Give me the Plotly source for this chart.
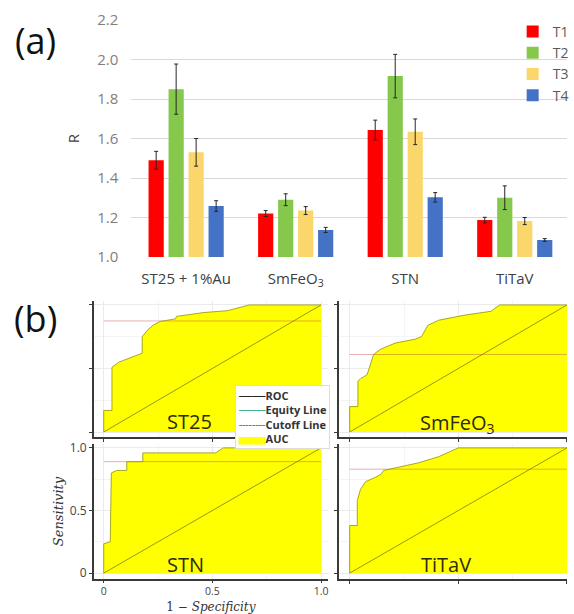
import plotly.graph_objects as go

# ---------------- (a) bar chart data ----------------
categories = ["ST25 + 1%Au", "SmFeO3", "STN", "TiTaV"]
category_labels = ["ST25 + 1%Au", "SmFeO<sub>3</sub>", "STN", "TiTaV"]
series_names = ["T1", "T2", "T3", "T4"]
t1_values = [1.49, 1.22, 1.643, 1.187]
t1_errors = [0.045, 0.015, 0.05, 0.014]
t2_values = [1.85, 1.29, 1.916, 1.30]
t2_errors = [0.127, 0.03, 0.11, 0.06]
t3_values = [1.53, 1.235, 1.634, 1.182]
t3_errors = [0.07, 0.02, 0.065, 0.018]
t4_values = [1.258, 1.137, 1.302, 1.086]
t4_errors = [0.027, 0.013, 0.024, 0.007]
series_colors = ["#FF0000", "#86C84B", "#FAD66B", "#4472C4"]
r_tick_values = [1.0, 1.2, 1.4, 1.6, 1.8, 2.0, 2.2]

# ---------------- (b) ROC data ----------------
st25_fpr = [0, 0, 0.038, 0.038, 0.07, 0.16, 0.177, 0.177, 0.2, 0.227, 0.26, 0.33, 0.335, 0.46, 0.57, 0.67, 1.0]
st25_tpr = [0, 0.17, 0.17, 0.51, 0.55, 0.61, 0.62, 0.75, 0.80, 0.84, 0.87, 0.89, 0.91, 0.94, 0.955, 1.0, 1.0]
smfeo3_fpr = [0, 0, 0.038, 0.038, 0.05, 0.08, 0.11, 0.14, 0.21, 0.30, 0.33, 0.36, 0.41, 0.53, 0.65, 0.69, 1.0]
smfeo3_tpr = [0, 0.20, 0.20, 0.40, 0.42, 0.45, 0.61, 0.65, 0.70, 0.73, 0.75, 0.84, 0.88, 0.92, 0.95, 1.0, 1.0]
stn_fpr = [0, 0, 0.03, 0.035, 0.06, 0.106, 0.106, 0.18, 0.18, 0.515, 0.55, 1.0]
stn_tpr = [0, 0.235, 0.25, 0.80, 0.82, 0.82, 0.89, 0.89, 0.96, 0.96, 1.0, 1.0]
titav_fpr = [0, 0, 0.035, 0.035, 0.05, 0.073, 0.118, 0.145, 0.156, 0.21, 0.315, 0.41, 0.49, 0.5, 1.0]
titav_tpr = [0, 0.38, 0.38, 0.58, 0.67, 0.73, 0.765, 0.79, 0.82, 0.84, 0.88, 0.93, 0.99, 1.0, 1.0]
cutoff_values = {"ST25": 0.874, "SmFeO3": 0.61, "STN": 0.89, "TiTaV": 0.83}
equity_x = [0, 1]
equity_y = [0, 1]
cutoff_x = [0, 1]
roc_tick_values = [0, 0.5, 1]
roc_tick_text = ["0", "0.5", "1.0"]
roc_minor_values = [0.25, 0.75]

FONT = "Open Sans"
W, H = 574, 614

def px_x(p):
    return p / W

def px_y(p):
    return 1 - p / H

fig = go.Figure()

values = [t1_values, t2_values, t3_values, t4_values]
errors = [t1_errors, t2_errors, t3_errors, t4_errors]
for name, vals, errs, col in zip(series_names, values, errors, series_colors):
    fig.add_trace(go.Bar(
        x=categories, y=vals, name=name, marker=dict(color=col, line=dict(width=0)),
        error_y=dict(type="data", array=errs, color="#262626", thickness=1, width=2),
        xaxis="x", yaxis="y",
    ))

panels = [
    ("ST25", "ST25", st25_fpr, st25_tpr, "x2", "y2"),
    ("SmFeO3", "SmFeO<sub>3</sub>", smfeo3_fpr, smfeo3_tpr, "x3", "y3"),
    ("STN", "STN", stn_fpr, stn_tpr, "x4", "y4"),
    ("TiTaV", "TiTaV", titav_fpr, titav_tpr, "x5", "y5"),
]

for key, label, fpr, tpr, xa, ya in panels:
    fig.add_trace(go.Scatter(x=fpr, y=tpr, mode="lines", fill="tozeroy",
                             fillcolor="#FFFF00", line=dict(width=0),
                             showlegend=False, hoverinfo="skip", xaxis=xa, yaxis=ya))
    fig.add_trace(go.Scatter(x=equity_x, y=equity_y, mode="lines",
                             line=dict(color="rgba(110,120,30,0.75)", width=1),
                             showlegend=False, hoverinfo="skip", xaxis=xa, yaxis=ya))
    c = cutoff_values[key]
    fig.add_trace(go.Scatter(x=cutoff_x, y=[c, c], mode="lines",
                             line=dict(color="rgba(200,80,80,0.45)", width=1),
                             showlegend=False, hoverinfo="skip", xaxis=xa, yaxis=ya))
    fig.add_trace(go.Scatter(x=fpr, y=tpr, mode="lines",
                             line=dict(color="rgba(150,150,20,0.85)", width=1),
                             showlegend=False, hoverinfo="skip", xaxis=xa, yaxis=ya))

layout = dict(
    width=W, height=H, autosize=False,
    margin=dict(l=0, r=0, t=0, b=0),
    paper_bgcolor="white", plot_bgcolor="white",
    template="none",
    font=dict(family=FONT, color="#404040"),
    barmode="group", bargap=0.27, bargroupgap=0.24,
    showlegend=True,
    legend=dict(x=px_x(519), y=px_y(16), xanchor="left", yanchor="top",
                bgcolor="rgba(0,0,0,0)", font=dict(size=14, color="#595959", family=FONT),
                tracegroupgap=0, itemwidth=30),
    xaxis=dict(domain=[px_x(133), 1.0], range=[-0.5, 3.477], type="category",
               tickmode="array", tickvals=categories, ticktext=category_labels,
               showgrid=False, showline=False, zeroline=False, ticks="",
               tickfont=dict(size=15, color="#404040"), ticklabelstandoff=11),
    yaxis=dict(domain=[px_y(257), px_y(20)], range=[1.0, 2.2],
               tickmode="array", tickvals=r_tick_values, tickformat=".1f",
               showgrid=True, gridcolor="#d9d9d9", gridwidth=1,
               showline=False, zeroline=False, ticks="",
               tickfont=dict(size=15, color="#7f7f7f"), ticklabelstandoff=12,
               title=dict(text="R", font=dict(size=15, color="#404040"), standoff=14)),
)

roc_geom = {
    "2": dict(xd=(95, 332), xr=(-0.0455, 1.032), yd=(437, 301), yr=(-0.039, 1.031), labels=False),
    "3": dict(xd=(343, 574), xr=(-0.05, 1.0), yd=(437, 301), yr=(-0.039, 1.031), labels=False),
    "4": dict(xd=(95, 332), xr=(-0.0455, 1.032), yd=(579, 444), yr=(-0.0465, 1.031), labels=True),
    "5": dict(xd=(343, 574), xr=(-0.05, 1.0), yd=(579, 444), yr=(-0.0465, 1.031), labels=False),
}
for k, g in roc_geom.items():
    common = dict(tickmode="array", tickvals=roc_tick_values, ticktext=roc_tick_text,
                  showline=True, linecolor="#3a3a3a", linewidth=1.5, mirror=False,
                  ticks="outside", ticklen=3, tickcolor="#3a3a3a", tickwidth=1,
                  showgrid=True, gridcolor="#ebebeb", gridwidth=1, zeroline=False,
                  minor=dict(tickvals=roc_minor_values, showgrid=True, gridcolor="#f4f4f4", ticks=""),
                  showticklabels=g["labels"], tickfont=dict(size=12, color="#444444"))
    xa = dict(common, domain=[px_x(g["xd"][0]), px_x(g["xd"][1])], range=list(g["xr"]),
              anchor="y" + k)
    ya = dict(common, domain=[px_y(g["yd"][0]), px_y(g["yd"][1])], range=list(g["yr"]),
              anchor="x" + k)
    if k == "4":
        xa["ticklen"] = 2
        xa["tickfont"] = dict(size=10.5, color="#444444")
        xa["title"] = dict(text="1 − <i>Specificity</i>",
                           font=dict(family="DejaVu Serif", size=12, color="#333333"), standoff=10)
        ya["title"] = dict(text="<i>Sensitivity</i>",
                           font=dict(family="DejaVu Serif", size=13, color="#333333"), standoff=3)
    layout["xaxis" + k] = xa
    layout["yaxis" + k] = ya

annotations = [
    dict(text="(a)", x=px_x(36), y=px_y(40), xref="paper", yref="paper",
         xanchor="center", yanchor="middle",
         showarrow=False, font=dict(size=36, color="#111111", family=FONT)),
    dict(text="(b)", x=px_x(36), y=px_y(318), xref="paper", yref="paper",
         xanchor="center", yanchor="middle",
         showarrow=False, font=dict(size=36, color="#111111", family=FONT)),
]
label_pos = {"ST25": (192, 421), "SmFeO3": (463, 423), "STN": (188, 564), "TiTaV": (452, 564)}
for key, label, *_ in panels:
    lx, ly = label_pos[key]
    annotations.append(dict(text=label, x=px_x(lx), y=px_y(ly), xref="paper", yref="paper",
                            xanchor="center", yanchor="middle",
                            showarrow=False, font=dict(size=20, color="#2b2b10", family=FONT)))

legend_rows = [("ROC", "#1a1a1a", "────", 11), ("Equity Line", "#3cb38a", "────", 11),
               ("Cutoff Line", "#e04848", "╌╌╌╌", 11), ("AUC", "#ffff00", "███████", 6.3)]
legend_text = "<br>".join(
    f"<span style='font-family:DejaVu Sans Mono;font-size:{fs}px;color:{col}'>{sym}</span>"
    f"<b>{name}</b>"
    for name, col, sym, fs in legend_rows)
annotations.append(dict(text=legend_text, x=px_x(238), y=px_y(385), xref="paper", yref="paper",
                        xanchor="left", yanchor="top", align="left", showarrow=False,
                        bgcolor="white", bordercolor="#dddddd", borderwidth=1, borderpad=2,
                        font=dict(size=11, color="#333333", family=FONT)))
layout["annotations"] = annotations

fig.update_layout(**layout)
fig.write_html("out.html")
